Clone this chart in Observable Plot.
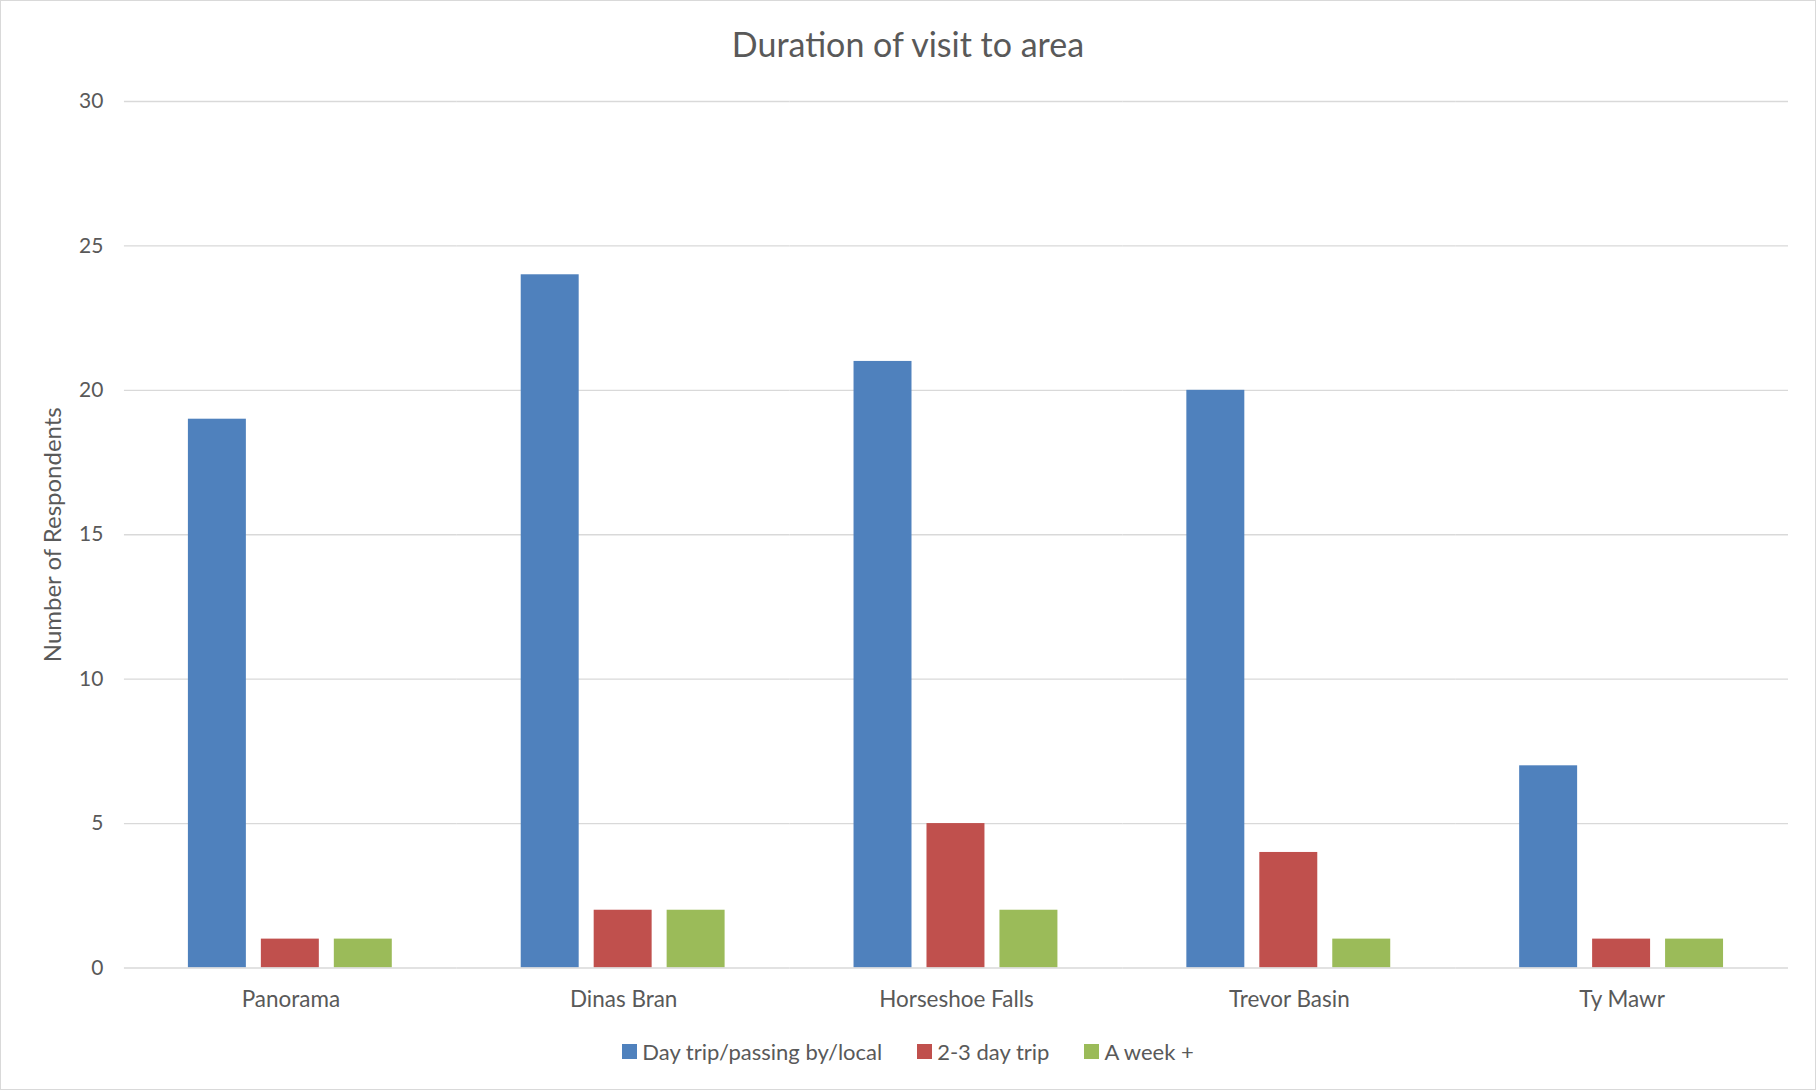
<!DOCTYPE html>
<html>
<head>
<meta charset="utf-8">
<script src="https://cdn.jsdelivr.net/npm/d3@7"></script>
<script src="https://cdn.jsdelivr.net/npm/@observablehq/plot@0.6"></script>
<style>
  html, body { margin: 0; padding: 0; background: #fff; }
  #chart {
    position: relative; width: 1816px; height: 1090px; box-sizing: border-box;
    border: 1px solid #d9d9d9; font-family: Lato, "Open Sans", sans-serif; color: #595959;
    overflow: hidden;
  }
  #title { position: absolute; left: 0; top: 0; width: 100%; height: 86px; line-height: 86px;
    text-align: center; font-size: 34px; color: #595959; z-index: 2; }
  #plot { position: absolute; left: -1px; top: 59px; z-index: 1; }
  #legend { position: absolute; left: 0; top: 1017px; width: 100%; height: 66px;
    display: flex; justify-content: center; align-items: center; gap: 35px; font-size: 22px; }
  .item { display: flex; align-items: center; gap: 5px; }
  .sw { width: 15px; height: 15px; display: inline-block; }
</style>
</head>
<body>
<div id="chart">
  <div id="title">Duration of visit to area</div>
  <div id="plot"></div>
  <div id="legend"></div>
</div>
<script>
const categories = ["Panorama", "Dinas Bran", "Horseshoe Falls", "Trevor Basin", "Ty Mawr"];
const seriesNames = ["Day trip/passing by/local", "2-3 day trip", "A week +"];
const seriesColors = ["#4F81BD", "#C0504D", "#9BBB59"];
const dayTrip = [19, 24, 21, 20, 7];
const twoThreeDay = [1, 2, 5, 4, 1];
const weekPlus = [1, 2, 2, 1, 1];
const yTicks = [0, 5, 10, 15, 20, 25, 30];

const seriesValues = [dayTrip, twoThreeDay, weekPlus];
const data = [];
categories.forEach((c, i) => {
  seriesNames.forEach((s, j) => data.push({category: c, series: s, value: seriesValues[j][i]}));
});

const chart = Plot.plot({
  width: 1816,
  height: 958,
  marginLeft: 123,
  marginRight: 27,
  marginTop: 41,
  marginBottom: 50,
  style: {fontFamily: "Lato, 'Open Sans', sans-serif", fontSize: "21px", color: "#595959", background: "transparent"},
  fx: {domain: categories, padding: 0, label: null},
  x: {domain: seriesNames, paddingInner: 0.2, paddingOuter: 0.87, axis: null},
  y: {domain: [0, 30], ticks: yTicks, label: null},
  color: {domain: seriesNames, range: seriesColors},
  marks: [
    Plot.ruleY(yTicks.filter(d => d > 0), {stroke: "#d9d9d9", strokeWidth: 1.3}),
    Plot.axisY({ticks: yTicks, tickSize: 0, tickPadding: 21, fontSize: 21, label: null}),
    Plot.axisFx({anchor: "bottom", tickSize: 0, tickPadding: 23, fontSize: 22.5, label: null}),
    Plot.barY(data, {fx: "category", x: "series", y: "value", fill: "series"}),
    Plot.ruleY([0], {stroke: "#d9d9d9", strokeWidth: 1.5}),
    Plot.text(["Number of Respondents"], {frameAnchor: "left", dx: -71, rotate: -90, textAnchor: "middle", fontSize: 24, fill: "#595959", facet: "super"})
  ]
});
document.getElementById("plot").appendChild(chart);

const legend = document.getElementById("legend");
seriesNames.forEach((s, i) => {
  const it = document.createElement("div");
  it.className = "item";
  const sw = document.createElement("span");
  sw.className = "sw"; sw.style.background = seriesColors[i];
  const t = document.createElement("span"); t.textContent = s;
  it.appendChild(sw); it.appendChild(t);
  legend.appendChild(it);
});
</script>
</body>
</html>
